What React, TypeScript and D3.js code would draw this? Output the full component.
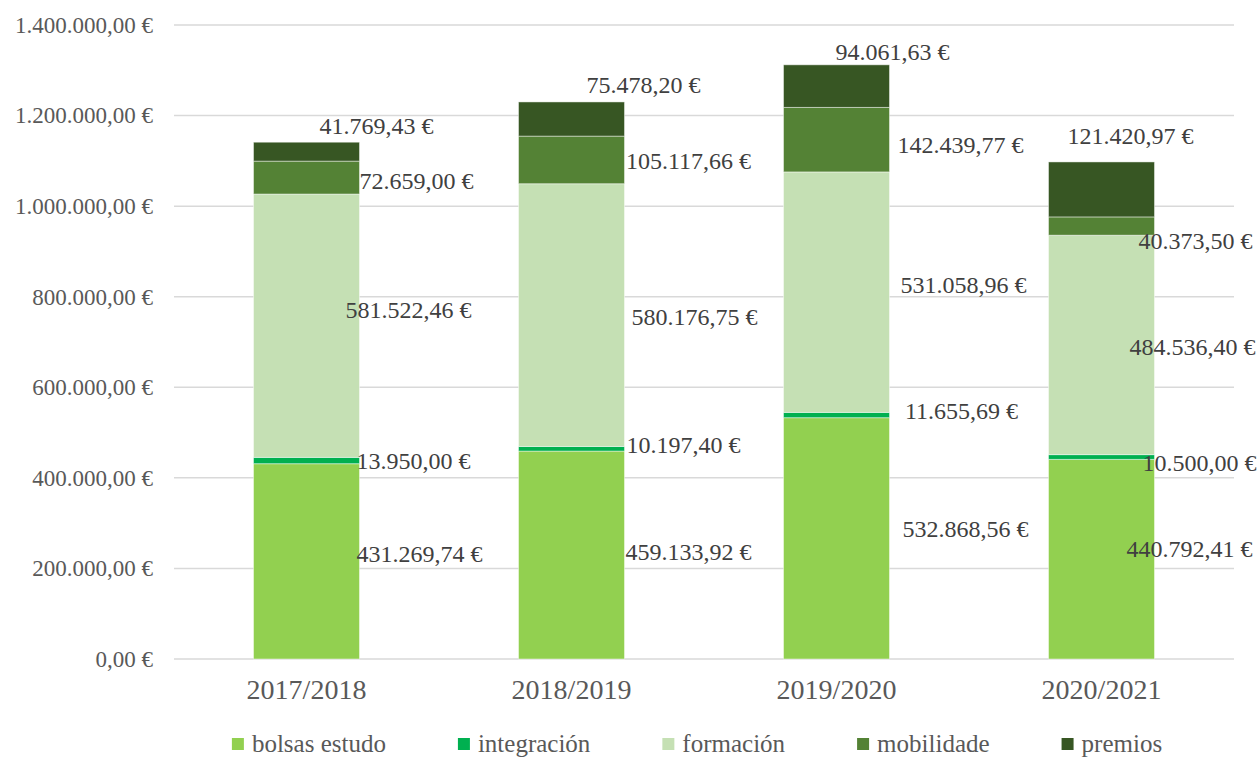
import React from 'react';
import * as d3 from 'd3';

// chart data
const years = ['2017/2018', '2018/2019', '2019/2020', '2020/2021'];
const seriesNames = ['bolsas estudo', 'integración', 'formación', 'mobilidade', 'premios'];
const bolsas = [431269.74, 459133.92, 532868.56, 440792.41];
const integracion = [13950.0, 10197.4, 11655.69, 10500.0];
const formacion = [581522.46, 580176.75, 531058.96, 484536.4];
const mobilidade = [72659.0, 105117.66, 142439.77, 40373.5];
const premios = [41769.43, 75478.2, 94061.63, 121420.97];
const yTicks = [0, 200000, 400000, 600000, 800000, 1000000, 1200000, 1400000];

const colors = ['#92D050', '#00B050', '#C5E0B4', '#548235', '#375623'];

// manual label nudges (px), like the hand-placed labels in the original
const labelDx = [
  [113, 117, 129, 88],
  [107, 112, 125, 98],
  [102, 123, 127, 91],
  [110, 117, 124, 94],
  [70, 72, 56, 29],
];
const labelDy = [
  [-8, -3, -10, -10],
  [0, -4, -4, 6],
  [-16, 2, -7, 2],
  [3, 1, 5, 15],
  [-26, -34, -34, -54],
];

const W = 1260;
const H = 758;
const margin = { top: 25, right: 26, bottom: 99, left: 174 };
const FONT = '"Liberation Serif", "Times New Roman", serif';

const locale = d3.formatLocale({ decimal: ',', thousands: '.', grouping: [3], currency: ['', ' €'] });
const euro = locale.format('$,.2f');

const measure = (() => {
  let ctx: CanvasRenderingContext2D | null = null;
  return (text: string, font: string) => {
    if (!ctx) ctx = document.createElement('canvas').getContext('2d');
    if (!ctx) return text.length * 10;
    ctx.font = font;
    return ctx.measureText(text).width;
  };
})();

const App: React.FC = () => {
  React.useEffect(() => {
    document.body.style.margin = '0';
  }, []);

  const rows = years.map((year, i) => ({
    year,
    v0: bolsas[i],
    v1: integracion[i],
    v2: formacion[i],
    v3: mobilidade[i],
    v4: premios[i],
  }));
  const keys = ['v0', 'v1', 'v2', 'v3', 'v4'];
  const stacked = d3.stack<any>().keys(keys)(rows);

  const x = d3
    .scaleBand<string>()
    .domain(years)
    .range([margin.left, W - margin.right])
    .paddingInner(0.6)
    .paddingOuter(0.3);
  const y = d3
    .scaleLinear()
    .domain([0, 1400000])
    .range([H - margin.bottom, margin.top]);

  const bw = x.bandwidth();

  // legend layout
  const legendSize = 25;
  const legendFont = `${legendSize}px ${FONT}`;
  const sq = 12;
  const sqGap = 8;
  const itemGap = 72;
  const widths = seriesNames.map((s) => sq + sqGap + measure(s, legendFont));
  const total = d3.sum(widths) + itemGap * (seriesNames.length - 1);
  let lx = 697 - total / 2;
  const legendX = widths.map((w) => {
    const cur = lx;
    lx += w + itemGap;
    return cur;
  });

  return (
    <svg width={W} height={H} style={{ display: 'block', background: '#fff' }} fontFamily={FONT}>
      {/* gridlines */}
      <g>
        {yTicks.map((t) => (
          <line
            key={t}
            x1={margin.left}
            x2={W - margin.right}
            y1={y(t)}
            y2={y(t)}
            stroke="#D9D9D9"
            strokeWidth={1.5}
          />
        ))}
      </g>
      {/* y axis labels */}
      <g fill="#595959" fontSize={23} textAnchor="end">
        {yTicks.map((t) => (
          <text key={t} x={153} y={y(t)} dy="0.34em">
            {euro(t)}
          </text>
        ))}
      </g>
      {/* bars */}
      {stacked.map((layer, si) => (
        <g key={layer.key} fill={colors[si]}>
          {layer.map((d, i) => (
            <rect
              key={i}
              x={x(years[i])}
              y={y(d[1])}
              width={bw}
              height={y(d[0]) - y(d[1])}
              stroke="#ffffff"
              strokeOpacity={0.45}
              strokeWidth={1}
            />
          ))}
        </g>
      ))}
      {/* data labels */}
      <g fill="#404040" fontSize={24} textAnchor="middle">
        {stacked.map((layer, si) =>
          layer.map((d, i) => (
            <text
              key={`${si}-${i}`}
              x={(x(years[i]) || 0) + bw / 2 + labelDx[si][i]}
              y={y((d[0] + d[1]) / 2) + labelDy[si][i]}
              dy="0.34em"
            >
              {euro(d[1] - d[0])}
            </text>
          ))
        )}
      </g>
      {/* category labels */}
      <g fill="#595959" fontSize={28} textAnchor="middle">
        {years.map((yr) => (
          <text key={yr} x={(x(yr) || 0) + bw / 2} y={H - margin.bottom + 40}>
            {yr}
          </text>
        ))}
      </g>
      {/* legend */}
      <g fontSize={legendSize} fill="#595959" fontFamily={FONT}>
        {seriesNames.map((s, i) => (
          <g key={s} transform={`translate(${legendX[i]},744)`}>
            <rect x={0} y={-sq / 2} width={sq} height={sq} fill={colors[i]} />
            <text x={sq + sqGap} y={-1} dy="0.34em">
              {s}
            </text>
          </g>
        ))}
      </g>
    </svg>
  );
};

export default App;
